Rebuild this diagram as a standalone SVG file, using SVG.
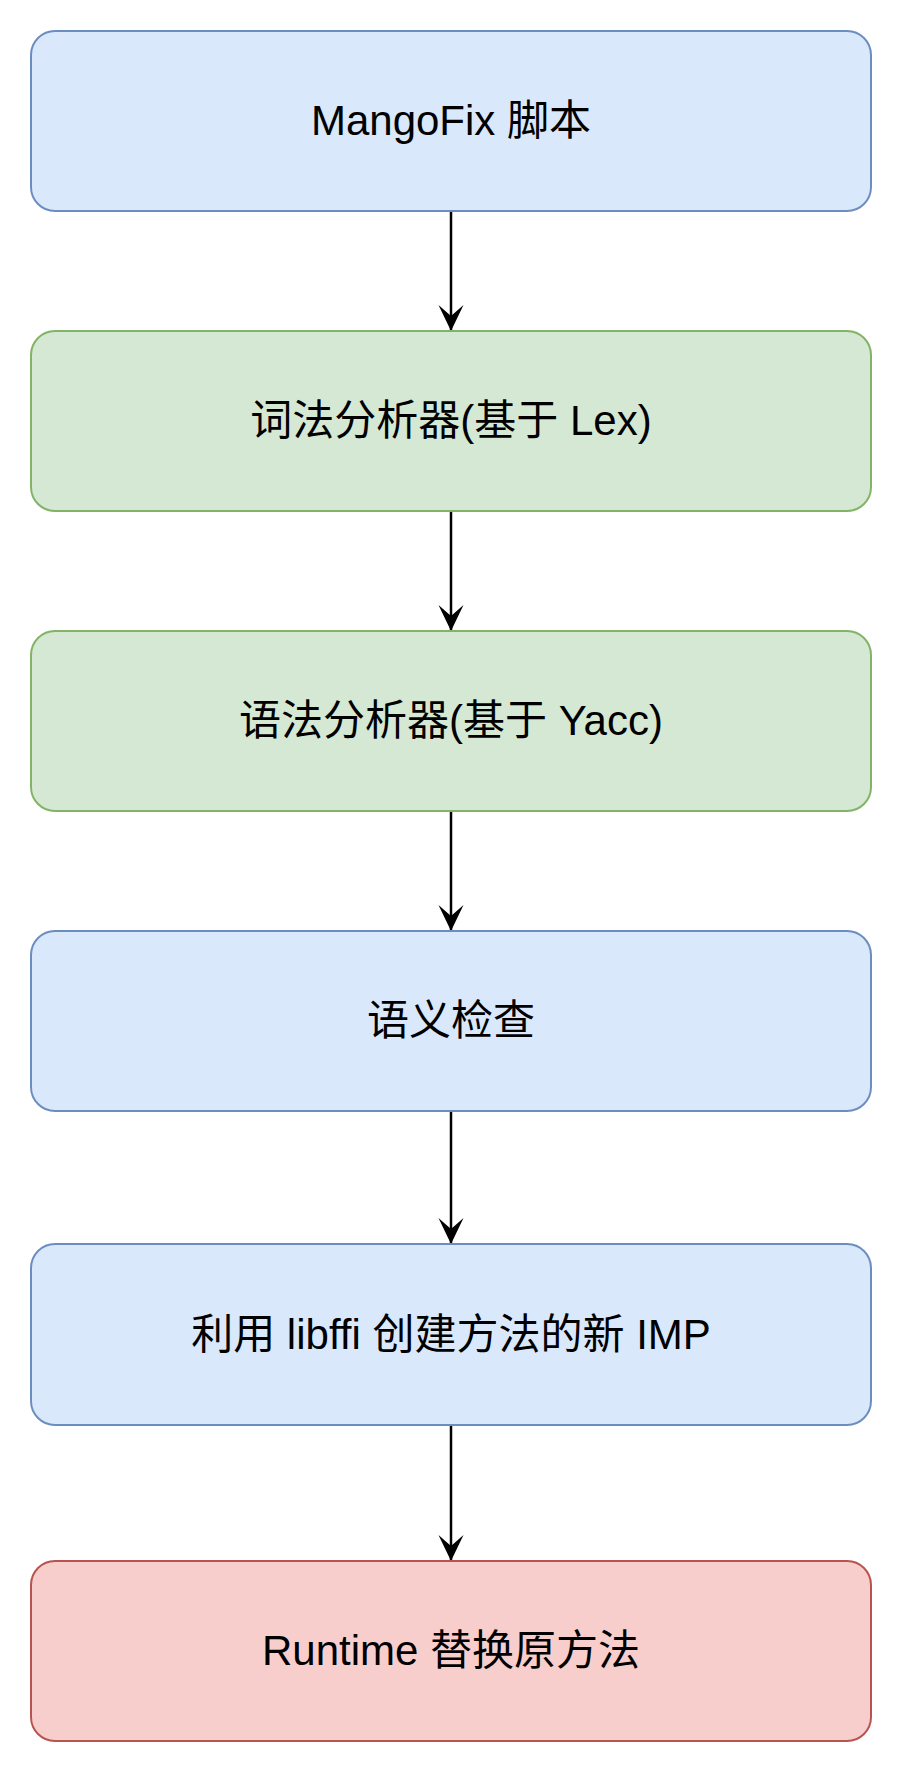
<svg xmlns="http://www.w3.org/2000/svg" width="903" height="1773" viewBox="0 0 903 1773">
<style>
.box{stroke-width:2}
.blue{fill:#dae8fc;stroke:#6c8ebf}
.green{fill:#d5e8d4;stroke:#82b366}
.red{fill:#f8cecc;stroke:#b85450}
.lbl{font-family:"Liberation Sans","Noto Sans CJK SC",sans-serif;font-size:42px;fill:#000;text-anchor:middle}
.edge{stroke:#000;stroke-width:2.5;fill:none}
</style>
<defs>
<marker id="arr" markerUnits="userSpaceOnUse" markerWidth="28" markerHeight="28" refX="26" refY="14" orient="auto" viewBox="0 0 28 28">
<path d="M0,1.5 L26,14 L0,26.5 L11,14 Z" fill="#000"/>
</marker>
</defs>
<rect width="903" height="1773" fill="#fff"/>
<g id="connectors">
<path class="edge" d="M451,211 L451,331" marker-end="url(#arr)"/>
<path class="edge" d="M451,511 L451,631" marker-end="url(#arr)"/>
<path class="edge" d="M451,811 L451,931" marker-end="url(#arr)"/>
<path class="edge" d="M451,1111 L451,1244" marker-end="url(#arr)"/>
<path class="edge" d="M451,1425 L451,1561" marker-end="url(#arr)"/>
</g>
<g id="n1">
<rect class="box blue" x="31" y="31" width="840" height="180" rx="24" ry="24"/>
<text class="lbl" x="451" y="135">MangoFix 脚本</text>
</g>
<g id="n2">
<rect class="box green" x="31" y="331" width="840" height="180" rx="24" ry="24"/>
<text class="lbl" x="451" y="435">词法分析器(基于 Lex)</text>
</g>
<g id="n3">
<rect class="box green" x="31" y="631" width="840" height="180" rx="24" ry="24"/>
<text class="lbl" x="451" y="735">语法分析器(基于 Yacc)</text>
</g>
<g id="n4">
<rect class="box blue" x="31" y="931" width="840" height="180" rx="24" ry="24"/>
<text class="lbl" x="451" y="1035">语义检查</text>
</g>
<g id="n5">
<rect class="box blue" x="31" y="1244" width="840" height="181" rx="24" ry="24"/>
<text class="lbl" x="451" y="1349">利用 libffi 创建方法的新 IMP</text>
</g>
<g id="n6">
<rect class="box red" x="31" y="1561" width="840" height="180" rx="24" ry="24"/>
<text class="lbl" x="451" y="1665">Runtime 替换原方法</text>
</g>
</svg>
